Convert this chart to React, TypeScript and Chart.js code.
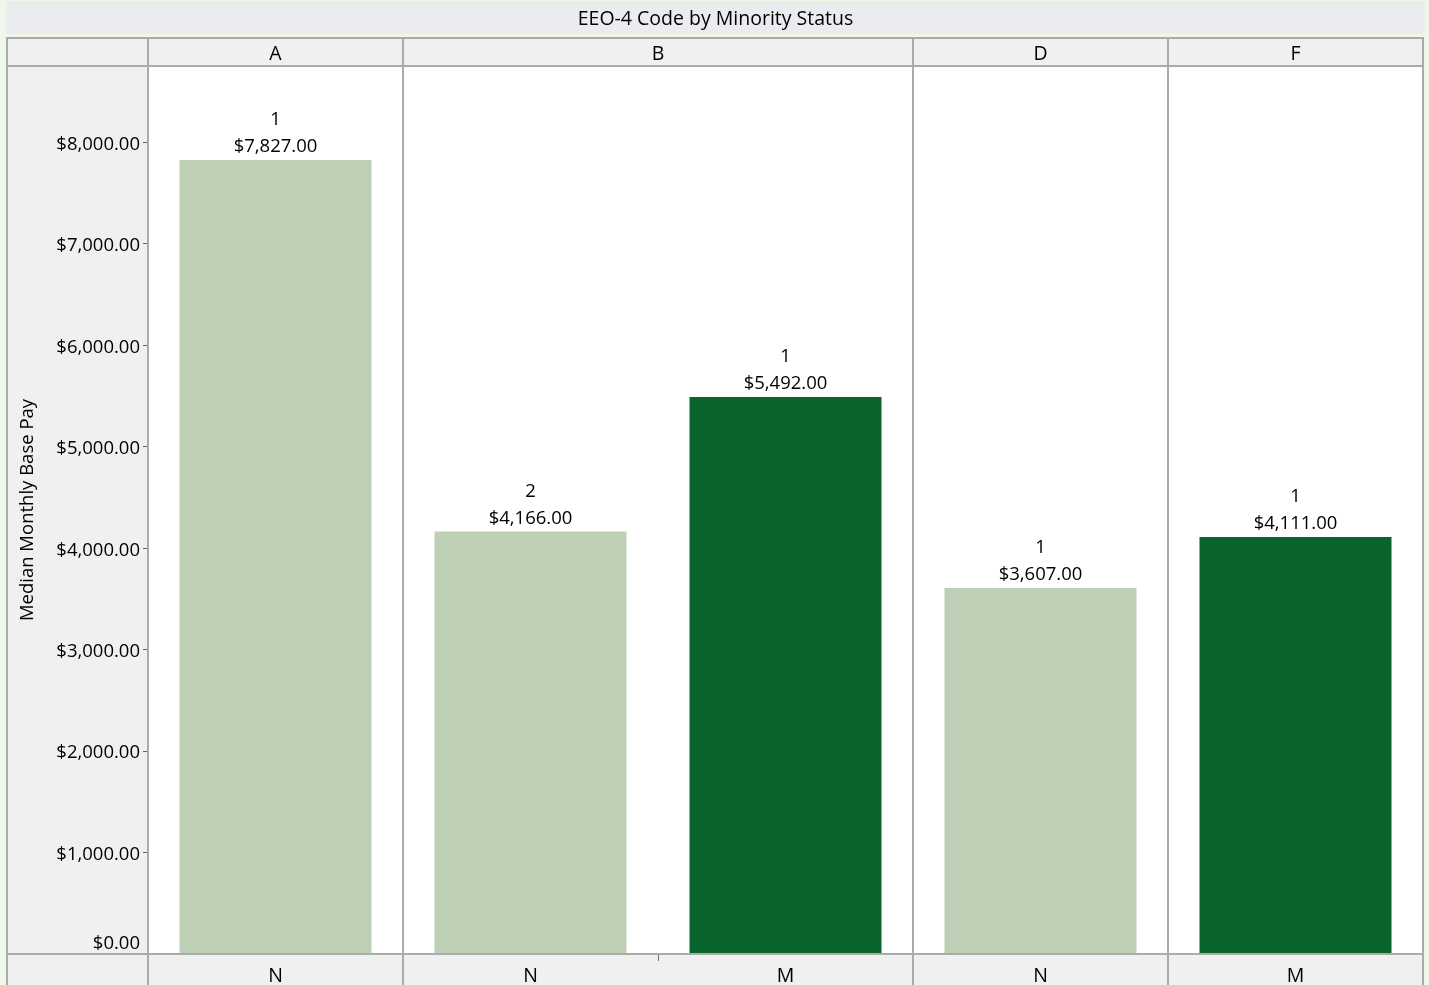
import React, { useEffect, useRef } from 'react';
import { Chart, registerables } from 'chart.js';

Chart.register(...registerables);

// ---- data ----
const chartTitle = 'EEO-4 Code by Minority Status';
const yAxisTitle = 'Median Monthly Base Pay';
const eeoCodes = ['A', 'B', 'B', 'D', 'F'];
const minorityStatus = ['N', 'N', 'M', 'N', 'M'];
const medianPay = [7827, 4166, 5492, 3607, 4111];
const counts = [1, 2, 1, 1, 1];
const yTickValues = [0, 1000, 2000, 3000, 4000, 5000, 6000, 7000, 8000];
const yMax = 8754;

// ---- style ----
const FONT = '"Open Sans", "Noto Sans", sans-serif';
const TEXT_SIZE = 19.5;
const NUM_SIZE = 18.5;
const statusColors: Record<string, string> = { N: '#BDCFB5', M: '#0A642D' };
const LINE = '#ABABAB';
const PANEL_BG = '#F0F0F0';
const PAGE_BG = '#EEF7E8';
const TITLE_BG = '#EBECF0';
const W = 1429;
const H = 985;
const FRAME_LEFT = 7;
const FRAME_TOP = 38;

const money = (v: number) =>
  '$' + v.toLocaleString('en-US', { minimumFractionDigits: 2, maximumFractionDigits: 2 });

function groups() {
  const out: { name: string; start: number; end: number }[] = [];
  eeoCodes.forEach((c, i) => {
    const last = out[out.length - 1];
    if (last && last.name === c) last.end = i;
    else out.push({ name: c, start: i, end: i });
  });
  return out;
}

const framePlugin = {
  id: 'jmpFrame',
  beforeDraw(chart: any) {
    const { ctx, chartArea: ca } = chart;
    ctx.save();
    ctx.fillStyle = PAGE_BG;
    ctx.fillRect(0, 0, W, H);
    ctx.fillStyle = TITLE_BG;
    ctx.fillRect(6, 1, 1419, 33);
    ctx.fillStyle = PANEL_BG;
    ctx.fillRect(FRAME_LEFT, FRAME_TOP, ca.right - FRAME_LEFT, H - FRAME_TOP);
    ctx.fillStyle = '#FFFFFF';
    ctx.fillRect(ca.left, ca.top, ca.right - ca.left, ca.bottom - ca.top);
    ctx.restore();
  },
  afterDraw(chart: any) {
    const { ctx, chartArea: ca } = chart;
    const xs = chart.scales.x;
    const ys = chart.scales.y;
    const half = (xs.getPixelForValue(1) - xs.getPixelForValue(0)) / 2;
    ctx.save();
    // lines
    ctx.strokeStyle = LINE;
    ctx.lineWidth = 2;
    ctx.beginPath();
    ctx.rect(FRAME_LEFT, FRAME_TOP, ca.right - FRAME_LEFT, H + 20 - FRAME_TOP);
    ctx.moveTo(FRAME_LEFT, ca.top);
    ctx.lineTo(ca.right, ca.top);
    ctx.moveTo(FRAME_LEFT, ca.bottom);
    ctx.lineTo(ca.right, ca.bottom);
    ctx.moveTo(ca.left, FRAME_TOP);
    ctx.lineTo(ca.left, H);
    const gs = groups();
    gs.forEach((g, gi) => {
      if (gi > 0) {
        const x = Math.round(xs.getPixelForValue(g.start) - half);
        ctx.moveTo(x, FRAME_TOP);
        ctx.lineTo(x, H);
      }
    });
    ctx.stroke();

    ctx.fillStyle = '#000';
    ctx.textAlign = 'center';
    ctx.textBaseline = 'middle';
    // title
    ctx.font = `${TEXT_SIZE}px ${FONT}`;
    ctx.fillText(chartTitle, (6 + 1425) / 2, 19);
    // group headers
    gs.forEach((g) => {
      const x0 = xs.getPixelForValue(g.start) - half;
      const x1 = xs.getPixelForValue(g.end) + half;
      ctx.fillText(g.name, (x0 + x1) / 2, (FRAME_TOP + ca.top) / 2 + 2);
    });
    // data labels
    ctx.font = `${NUM_SIZE}px ${FONT}`;
    const meta = chart.getDatasetMeta(0);
    meta.data.forEach((el: any, i: number) => {
      ctx.fillText(money(medianPay[i]), el.x, el.y - 13);
      ctx.fillText(String(counts[i]), el.x, el.y - 40);
    });
    // y tick labels
    ctx.textAlign = 'right';
    ys.ticks.forEach((t: any) => {
      let py = ys.getPixelForValue(t.value) + 2;
      if (t.value === 0) py -= 12;
      ctx.fillText(money(t.value), ca.left - 8, py);
    });
    ctx.restore();
  },
};

export default function App() {
  const ref = useRef<HTMLCanvasElement | null>(null);
  useEffect(() => {
    document.body.style.margin = '0';
    const canvas = ref.current!;
    const chart = new Chart(canvas, {
      type: 'bar',
      data: {
        labels: minorityStatus,
        datasets: [
          {
            data: medianPay,
            backgroundColor: minorityStatus.map((s) => statusColors[s]),
            borderWidth: 0,
            categoryPercentage: 1,
            barPercentage: 0.753,
          },
        ],
      },
      options: {
        responsive: false,
        animation: false,
        devicePixelRatio: 1,
        layout: { padding: { top: 66, right: W - 1423, left: 0, bottom: 0 } },
        plugins: {
          legend: { display: false },
          tooltip: { enabled: false },
          title: { display: false },
        },
        scales: {
          x: {
            type: 'category',
            offset: true,
            afterFit: (s: any) => {
              s.height = H - 954;
            },
            border: { display: false },
            grid: {
              display: true,
              offset: true,
              drawOnChartArea: false,
              drawTicks: true,
              tickLength: 7,
              color: '#707070',
              lineWidth: 1,
            },
            ticks: {
              color: '#000',
              font: { family: FONT, size: TEXT_SIZE },
              padding: 4,
              maxRotation: 0,
              autoSkip: false,
            },
          },
          y: {
            type: 'linear',
            min: 0,
            max: yMax,
            afterFit: (s: any) => {
              s.width = 148;
            },
            afterBuildTicks: (s: any) => {
              s.ticks = yTickValues.map((v) => ({ value: v }));
            },
            border: { display: false },
            grid: {
              display: true,
              drawOnChartArea: false,
              drawTicks: true,
              tickLength: 5,
              color: '#606060',
              lineWidth: 1,
            },
            ticks: {
              display: false,
            },
            title: {
              display: true,
              text: yAxisTitle,
              color: '#000',
              font: { family: FONT, size: TEXT_SIZE - 1 },
              padding: { top: 17, bottom: 0 },
            },
          },
        },
      },
      plugins: [framePlugin],
    } as any);
    return () => chart.destroy();
  }, []);
  return (
    <div style={{ width: W, height: H, overflow: 'hidden' }}>
      <canvas ref={ref} width={W} height={H} style={{ width: W, height: H, display: 'block' }} />
    </div>
  );
}
